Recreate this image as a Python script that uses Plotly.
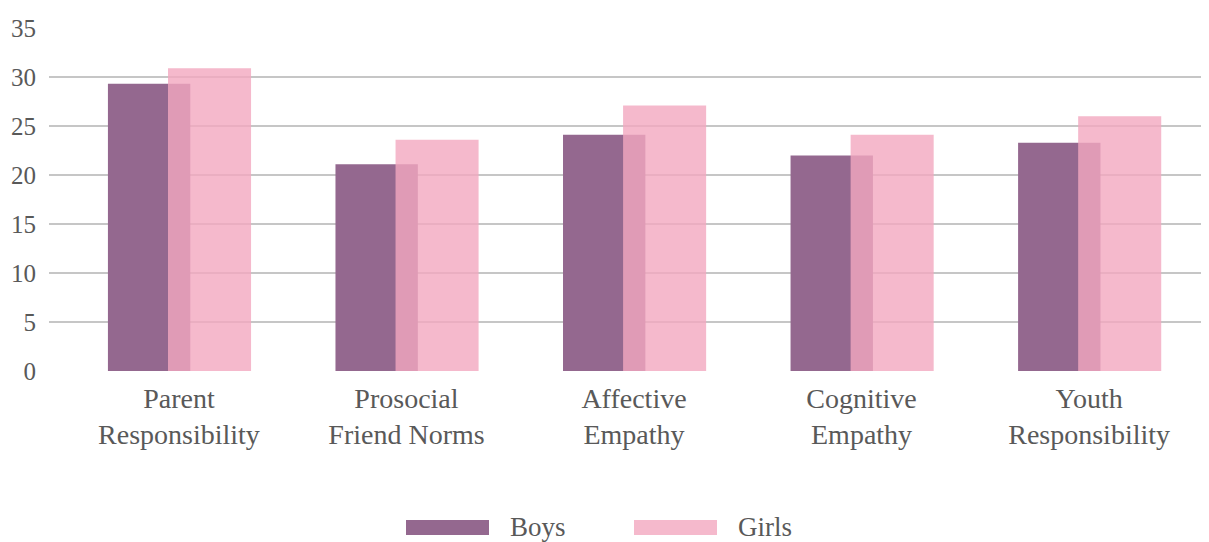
import plotly.graph_objects as go

categories = ["Parent<br>Responsibility", "Prosocial<br>Friend Norms", "Affective<br>Empathy",
              "Cognitive<br>Empathy", "Youth<br>Responsibility"]
boys = [29.3, 21.1, 24.1, 22.0, 23.3]
girls = [30.9, 23.6, 27.1, 24.1, 26.0]
y_ticks = [0, 5, 10, 15, 20, 25, 30, 35]

pos = list(range(len(categories)))
FONT = "'Liberation Serif', 'DejaVu Serif', serif"
TXT = "#595959"
BOYS_C = "#94688f"
GIRLS_C = "rgba(243,168,191,0.8)"

fig = go.Figure()
fig.add_trace(go.Bar(x=pos, y=boys, name="Boys", marker=dict(color=BOYS_C, line=dict(width=0)),
                     width=0.362, offset=-0.312, showlegend=False))
fig.add_trace(go.Bar(x=pos, y=girls, name="Girls", marker=dict(color=GIRLS_C, line=dict(width=0)),
                     width=0.365, offset=-0.048, showlegend=False))

# page body has an 8px margin, so the figure starts at (8, 8) in the window
fig.update_layout(
    width=1201, height=534, autosize=False,
    margin=dict(l=41, r=0, t=20, b=171),
    paper_bgcolor="white", plot_bgcolor="white",
    barmode="overlay",
    font=dict(family=FONT, color=TXT),
    xaxis=dict(range=[-0.571, 4.527], tickvals=pos, ticktext=categories,
               showgrid=False, zeroline=False, showline=False,
               tickfont=dict(size=28, family=FONT, color=TXT), ticks="", ticklabelstandoff=8),
    yaxis=dict(range=[0, 35], tickvals=y_ticks, showgrid=True, gridcolor="#c6c6c6", gridwidth=1.5,
               zeroline=False, showline=False, ticks="",
               tickfont=dict(size=25, family=FONT, color=TXT), ticklabelstandoff=12),
)

# legend drawn as swatches + labels below the chart (window x positions)
legend_items = [("Boys", BOYS_C, 406), ("Girls", "#f5b9cc", 634)]
for name, col, x0 in legend_items:
    fig.add_shape(type="rect", xref="paper", yref="paper",
                  x0=(x0 - 49) / 1160, x1=(x0 + 83 - 49) / 1160,
                  y0=(371 - 535) / 343, y1=(371 - 520) / 343,
                  fillcolor=col, line=dict(width=0))
    fig.add_annotation(text=name, xref="paper", yref="paper",
                       x=(x0 + 102 - 49) / 1160, y=(371 - 527) / 343,
                       xanchor="left", yanchor="middle", showarrow=False,
                       font=dict(size=27, family=FONT, color=TXT))

fig.write_html("out.html")
